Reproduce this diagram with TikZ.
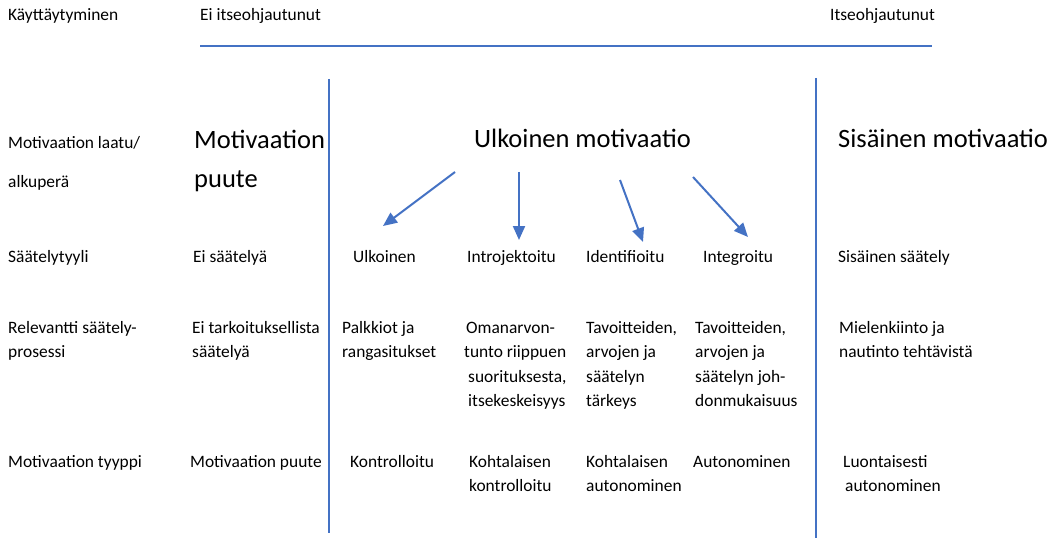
\documentclass[tikz,border=0pt]{standalone}
\usepackage{fontspec}
\setmainfont{Carlito}
\usetikzlibrary{arrows.meta}
\definecolor{lineblue}{HTML}{4472C4}
\begin{document}
\begin{tikzpicture}[x=1pt,y=-1pt,
  lbl/.style={font=\fontsize{17.4}{24.5}\selectfont, inner sep=0pt, anchor=base west, align=left},
  big/.style={font=\fontsize{26.5}{39}\selectfont, inner sep=0pt, anchor=base west, align=left},
  rulel/.style={draw=lineblue, line width=1.1pt},
  arr/.style={draw=lineblue, line width=2pt, -{Triangle[length=14pt,width=12pt]}}]
\useasboundingbox (0,0) rectangle (1054,540);

% header row
\node[lbl] (beh) at (8,21) {Käyttäytyminen};
\node[lbl] (nonself) at (200,21) {Ei itseohjautunut};
\node[lbl] (self) at (830,21) {Itseohjautunut};
\coordinate (hl) at (200,46);
\coordinate (hr) at (932,46);
\draw[rulel] (hl) -- (hr);

% vertical separators
\coordinate (v1t) at (329,79);
\coordinate (v1b) at (329,533);
\coordinate (v2t) at (816,78);
\coordinate (v2b) at (816,538);
\draw[rulel] (v1t) -- (v1b);
\draw[rulel] (v2t) -- (v2b);

% row: motivation quality (base anchor = last line)
\node[lbl] (r2) at (8,187) {Motivaation laatu/\\[14.5pt]alkuperä};
\node[big] (amot) at (194,187) {Motivaation\\puute};
\node[big] (extm) at (474,148) {Ulkoinen motivaatio};
\node[big] (intm) at (838,148) {Sisäinen motivaatio};

% row: regulation style
\node[lbl] (r3) at (8,262) {Säätelytyyli};
\node[lbl] (s0) at (193,262) {Ei säätelyä};
\node[lbl] (s1) at (353,262) {Ulkoinen};
\node[lbl] (s2) at (467,262) {Introjektoitu};
\node[lbl] (s3) at (586,262) {Identifioitu};
\node[lbl] (s4) at (703,262) {Integroitu};
\node[lbl] (s5) at (838,262) {Sisäinen säätely};

% arrows
\coordinate (a1s) at (455,172); \coordinate (a1e) at (383,226);
\coordinate (a2s) at (519,172); \coordinate (a2e) at (519,240);
\coordinate (a3s) at (620,180); \coordinate (a3e) at (643,242);
\coordinate (a4s) at (693,177); \coordinate (a4e) at (748,237);
\draw[arr] (a1s) -- (a1e);
\draw[arr] (a2s) -- (a2e);
\draw[arr] (a3s) -- (a3e);
\draw[arr] (a4s) -- (a4e);

% row: relevant regulation process
\node[lbl] (r4) at (8,357.5) {Relevantti säätely-\\prosessi};
\node[lbl] (p0) at (192,357.5) {Ei tarkoituksellista\\säätelyä};
\node[lbl] (p1) at (342,357.5) {Palkkiot ja\\rangasitukset};
\node[lbl] (p2) at (464,406.5) {\hspace*{2pt}Omanarvon-\\tunto riippuen\\\hspace*{4pt}suorituksesta,\\\hspace*{4pt}itsekeskeisyys};
\node[lbl] (p3) at (586,406.5) {Tavoitteiden,\\arvojen ja\\säätelyn\\tärkeys};
\node[lbl] (p4) at (695,406.5) {Tavoitteiden,\\arvojen ja\\säätelyn joh-\\donmukaisuus};
\node[lbl] (p5) at (839,357.5) {Mielenkiinto ja\\nautinto tehtävistä};

% row: motivation type
\node[lbl] (r5) at (8,467) {Motivaation tyyppi};
\node[lbl] (t0) at (190,467) {Motivaation puute};
\node[lbl] (t1) at (350,467) {Kontrolloitu};
\node[lbl] (t2) at (469,491.5) {Kohtalaisen\\kontrolloitu};
\node[lbl] (t3) at (586,491.5) {Kohtalaisen\\autonominen};
\node[lbl] (t4) at (693,467) {Autonominen};
\node[lbl] (t5) at (843,491.5) {Luontaisesti\\\hspace*{2pt}autonominen};
\end{tikzpicture}
\end{document}
